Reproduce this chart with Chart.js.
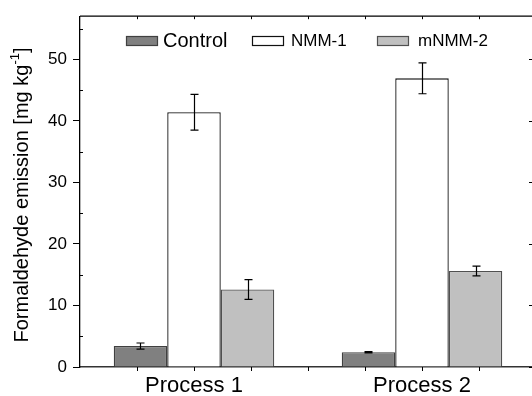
<!DOCTYPE html>
<html>
<head>
<meta charset="utf-8">
<script src="https://cdn.jsdelivr.net/npm/chart.js@4.4.1/dist/chart.umd.min.js"></script>
<style>
html,body{margin:0;padding:0;background:#fff;overflow:hidden;}
#wrap{width:540px;height:396px;}
</style>
</head>
<body>
<div id="wrap"><canvas id="c" width="540" height="396"></canvas></div>
<script>
const categories = ["Process 1", "Process 2"];
const seriesNames = ["Control", "NMM-1", "mNMM-2"];
const controlValues = [3.4, 2.4];
const nmm1Values = [41.4, 46.9];
const mnmm2Values = [12.6, 15.6];
const controlErrors = [0.5, 0.1];
const nmm1Errors = [2.9, 2.5];
const mnmm2Errors = [1.6, 0.8];
const yTicks = [0, 10, 20, 30, 40, 50];
const yMinorTicks = [5, 15, 25, 35, 45, 55];
const yMax = 57;

const FONT = "'Liberation Sans', Arial, sans-serif";

const errorBars = {
  id: 'errorBars',
  afterDatasetsDraw(chart) {
    const ctx = chart.ctx;
    const y = chart.scales.y;
    ctx.save();
    ctx.strokeStyle = '#000';
    ctx.lineWidth = 1.2;
    chart.data.datasets.forEach((ds, di) => {
      const meta = chart.getDatasetMeta(di);
      meta.data.forEach((bar, i) => {
        const v = ds.data[i], e = ds.errors[i];
        const x = Math.round(bar.x) + 0.5;
        const yt = y.getPixelForValue(v + e), yb = y.getPixelForValue(v - e);
        ctx.beginPath();
        ctx.moveTo(x, yt); ctx.lineTo(x, yb);
        ctx.moveTo(x - 4, yt); ctx.lineTo(x + 4, yt);
        ctx.moveTo(x - 4, yb); ctx.lineTo(x + 4, yb);
        ctx.stroke();
      });
    });
    ctx.restore();
  }
};

const frame = {
  id: 'frame',
  afterDraw(chart) {
    const ctx = chart.ctx;
    const a = chart.chartArea;
    const y = chart.scales.y;
    const x = chart.scales.x;
    ctx.save();
    ctx.strokeStyle = '#000';
    ctx.lineWidth = 1.3;
    ctx.beginPath();
    ctx.moveTo(a.left, a.top); ctx.lineTo(a.right, a.top); ctx.lineTo(a.right, a.bottom);
    ctx.stroke();
    ctx.lineWidth = 1;
    ctx.beginPath();
    yMinorTicks.forEach(v => {
      const p = Math.round(y.getPixelForValue(v)) + 0.5;
      ctx.moveTo(a.left, p); ctx.lineTo(a.left + 3, p);
      ctx.moveTo(a.right, p); ctx.lineTo(a.right - 3, p);
    });
    yTicks.forEach(v => {
      const p = Math.round(y.getPixelForValue(v)) + 0.5;
      ctx.moveTo(a.right, p); ctx.lineTo(a.right - 7, p);
    });
    const step = (x.getPixelForValue(1) - x.getPixelForValue(0)) / 4;
    for (let k = 1; k < 8; k++) {
      const p = Math.round(a.left + step * k) + 0.5;
      ctx.moveTo(p, a.bottom); ctx.lineTo(p, a.bottom + 4);
      ctx.moveTo(p, a.top); ctx.lineTo(p, a.top + 3);
    }
    ctx.stroke();

    ctx.fillStyle = '#000';
    ctx.translate(22, 195);
    ctx.rotate(-Math.PI / 2);
    ctx.textBaseline = 'middle';
    const main = 'Formaldehyde emission [mg kg';
    const sup = '-1';
    const end = ']';
    ctx.font = '20px ' + FONT;
    const w1 = ctx.measureText(main).width;
    const w3 = ctx.measureText(end).width;
    ctx.font = '13px ' + FONT;
    const w2 = ctx.measureText(sup).width;
    const total = w1 + w2 + w3;
    let sx = -total / 2;
    ctx.textAlign = 'left';
    ctx.font = '20px ' + FONT;
    ctx.fillText(main, sx, 0);
    sx += w1;
    ctx.font = '13px ' + FONT;
    ctx.fillText(sup, sx, -7);
    sx += w2;
    ctx.font = '20px ' + FONT;
    ctx.fillText(end, sx, 0);
    ctx.restore();

    ctx.save();
    const items = [
      {box: 126, text: 163, size: 20},
      {box: 252, text: 291, size: 17},
      {box: 377, text: 418, size: 17}
    ];
    ctx.textBaseline = 'middle';
    ctx.textAlign = 'left';
    chart.data.datasets.forEach((ds, i) => {
      const it = items[i];
      ctx.fillStyle = ds.backgroundColor;
      ctx.strokeStyle = ds.borderColor;
      ctx.lineWidth = 1.2;
      ctx.fillRect(it.box, 36, 31, 9);
      ctx.strokeRect(it.box + 0.5, 36.5, 31, 9);
      ctx.fillStyle = '#000';
      ctx.font = it.size + 'px ' + FONT;
      ctx.fillText(ds.label, it.text, 41);
    });
    ctx.restore();
  }
};

new Chart(document.getElementById('c'), {
  type: 'bar',
  data: {
    labels: categories,
    datasets: [
      {label: seriesNames[0], data: controlValues, errors: controlErrors, backgroundColor: '#808080', borderColor: '#404040', borderWidth: 1.3},
      {label: seriesNames[1], data: nmm1Values, errors: nmm1Errors, backgroundColor: '#ffffff', borderColor: '#111111', borderWidth: 1.3},
      {label: seriesNames[2], data: mnmm2Values, errors: mnmm2Errors, backgroundColor: '#c0c0c0', borderColor: '#505050', borderWidth: 1.3}
    ]
  },
  options: {
    responsive: false,
    animation: false,
    layout: {padding: {top: 13, right: 4, left: 0, bottom: 0}},
    plugins: {legend: {display: false}, tooltip: {enabled: false}, title: {display: false}},
    datasets: {bar: {barPercentage: 1, categoryPercentage: 0.704}},
    scales: {
      x: {
        type: 'category',
        offset: true,
        grid: {display: false},
        border: {display: true, color: '#333', width: 1.5},
        ticks: {font: {family: FONT, size: 22}, color: '#000', padding: -2, maxRotation: 0},
        afterFit(s) { s.height = 29; }
      },
      y: {
        min: 0, max: yMax,
        grid: {drawOnChartArea: false, drawTicks: true, tickLength: 7, color: '#000', lineWidth: 1},
        border: {display: true, color: '#000', width: 1.3},
        ticks: {stepSize: 10, font: {family: FONT, size: 17}, color: '#000', padding: 6},
        afterBuildTicks(s) { s.ticks = yTicks.map(v => ({value: v})); },
        afterFit(s) { s.width = 80; }
      }
    }
  },
  plugins: [errorBars, frame]
});
</script>
</body>
</html>
